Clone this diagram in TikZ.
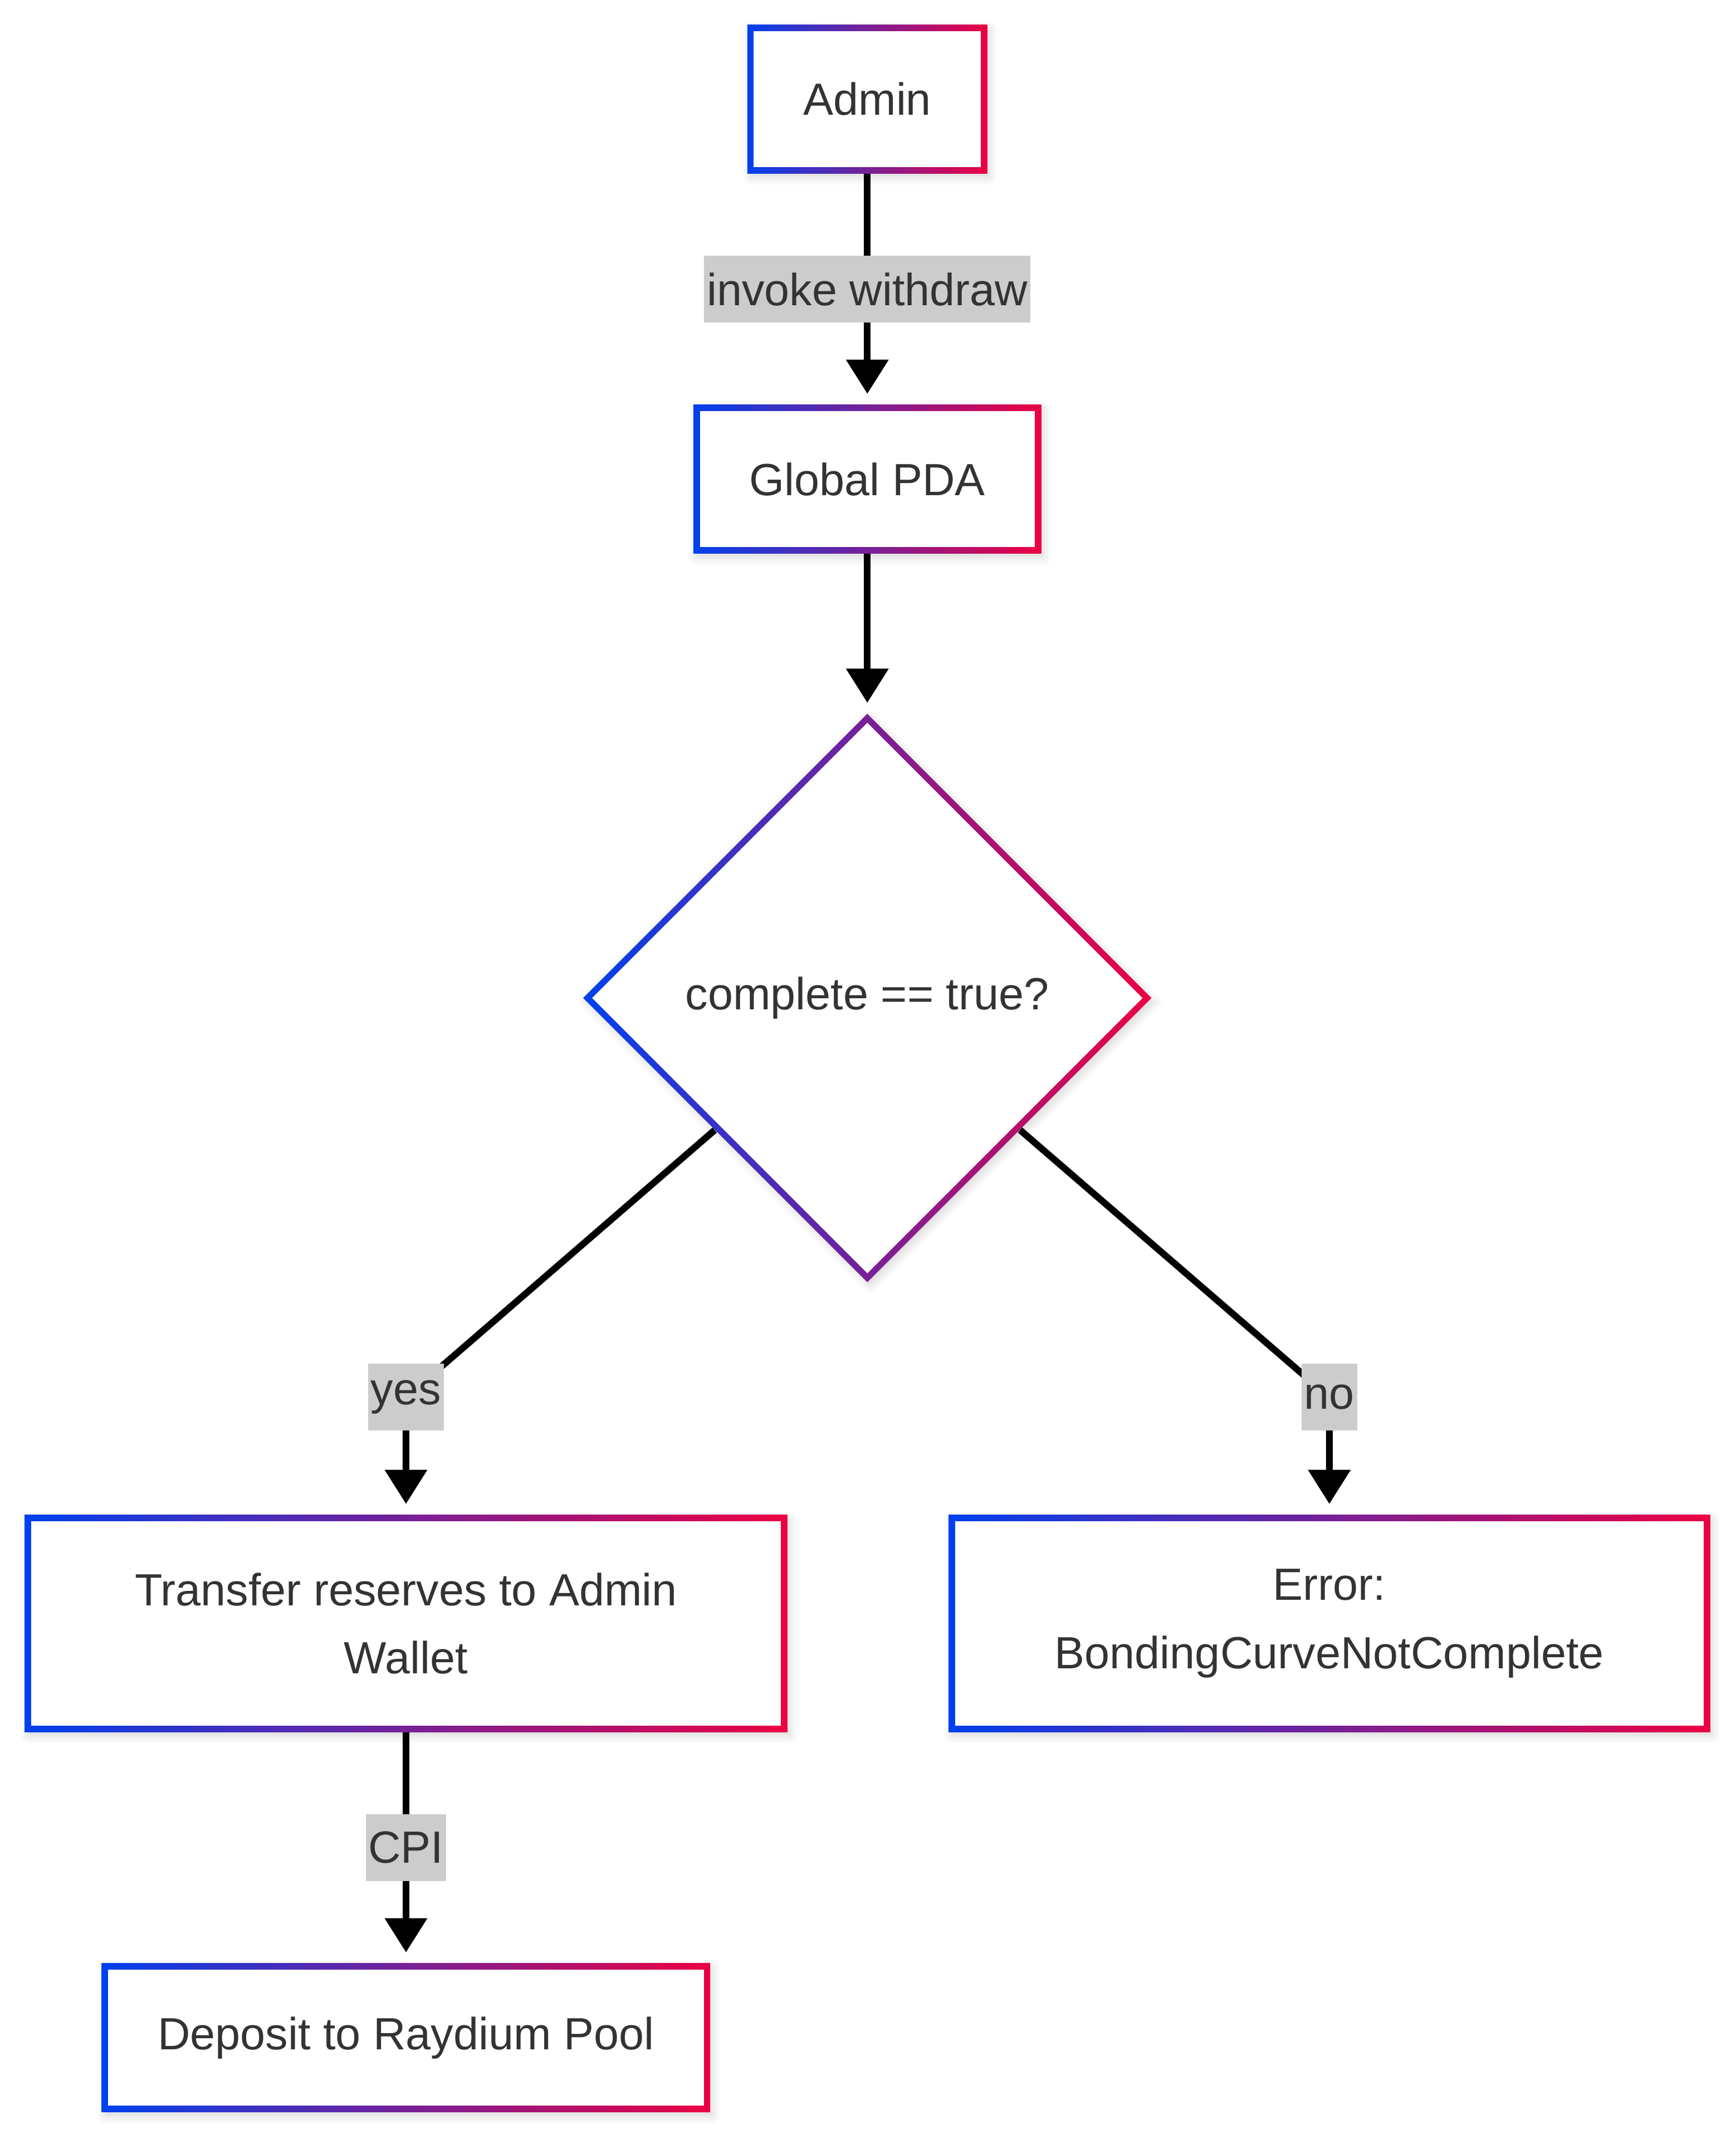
\documentclass[tikz,border=0pt]{standalone}
\usepackage{fontspec}
\setmainfont{Liberation Sans}
\usetikzlibrary{positioning, shapes.geometric, arrows.meta, calc, shadows, shadows.blur}
\definecolor{edgeblue}{RGB}{0,65,238}
\definecolor{edgered}{RGB}{236,0,66}
\definecolor{textgray}{RGB}{51,51,51}
\definecolor{lblgray}{RGB}{204,204,204}
\tikzset{
  box/.style={draw=none, left color=edgeblue, right color=edgered, text=textgray,
    inner xsep=41pt, inner ysep=0pt, minimum height=109pt, align=center,
    blur shadow={shadow xshift=2pt, shadow yshift=-3pt, shadow blur radius=6pt, shadow opacity=15},
    path picture={\fill[white] ($(path picture bounding box.south west)+(4.7pt,4.7pt)$)
      rectangle ($(path picture bounding box.north east)-(4.7pt,4.7pt)$);}},
  decision/.style={draw=none, shape=diamond, aspect=1, inner sep=0pt, text=textgray,
    minimum width=416pt, minimum height=416pt, left color=edgeblue, right color=edgered,
    blur shadow={shadow xshift=2pt, shadow yshift=-3pt, shadow blur radius=6pt, shadow opacity=15},
    path picture={\fill[white] ($(path picture bounding box.north)-(0,6.6pt)$)
      -- ($(path picture bounding box.east)-(6.6pt,0)$)
      -- ($(path picture bounding box.south)+(0,6.6pt)$)
      -- ($(path picture bounding box.west)+(6.6pt,0)$) -- cycle;}},
  lbl/.style={fill=lblgray, text=textgray, inner xsep=2pt, inner ysep=0pt, minimum height=49pt},
  flow/.style={line width=4.9pt, -{Triangle[width=30pt,length=25pt]}, shorten >=7.7pt}
}

\begin{document}
\begin{tikzpicture}[x=1pt, y=-1pt, font=\fontsize{33}{50}\selectfont]

\useasboundingbox (0,0) rectangle (1270,1564.6);

% boxes
\node [box] (admin) at (634.5,72.5) {Admin};
\node [box] (pda) at (634.5,350.5) {Global PDA};
\node [decision] (check) at (634.5,730) {complete == true?};

\node [box, minimum width=558pt, minimum height=159pt] (xfer) at (297,1187.5) {Transfer reserves to Admin\\Wallet};
\node [box, minimum width=557pt, minimum height=159pt] (err) at (972.5,1187.5) {Error:\\BondingCurveNotComplete};

\node [box] (deposit) at (297,1490.5) {Deposit to Raydium Pool};

\coordinate (yesbend) at (297,1022);
\coordinate (nobend) at (972.5,1022);

% edges
\draw [flow] (admin) -- (pda) node [lbl, midway] (invoke) {invoke withdraw};
\draw [flow] (pda) -- (check);

\draw [flow] (check) -- (yesbend) node [lbl] (yes) {yes} -- (xfer);
\draw [flow] (check) -- (nobend) node [lbl] (no) {no} -- (err);

\draw [flow] (xfer) -- (deposit) node [lbl, midway] (cpi) {CPI};

\end{tikzpicture}
\end{document}
